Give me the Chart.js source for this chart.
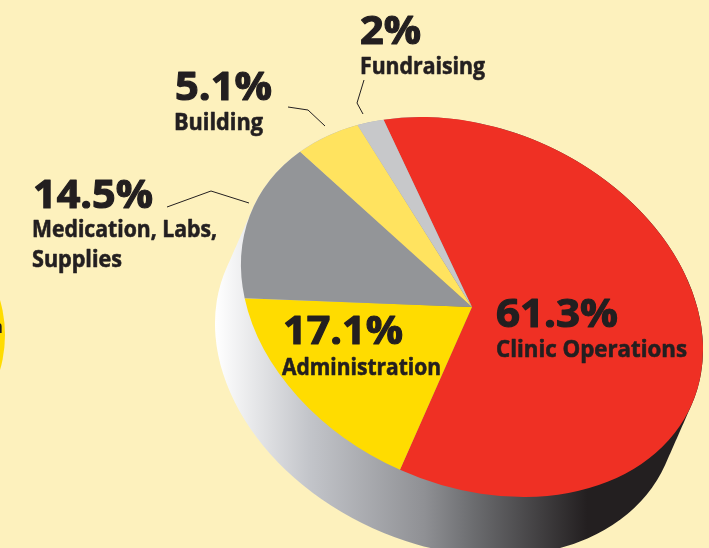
<!DOCTYPE html>
<html>
<head>
<meta charset="utf-8">
<title>Expenses</title>
<script src="https://cdn.jsdelivr.net/npm/chart.js@4"></script>
<style>
  html, body { margin: 0; padding: 0; background: #fdf1bd; overflow: hidden; }
  canvas { display: block; }
</style>
</head>
<body>
<canvas id="myChart" width="709" height="548"></canvas>
<script>
const categories = ["Clinic Operations", "Administration", "Medication, Labs, Supplies", "Building", "Fundraising"];
const values = [61.3, 17.1, 14.5, 5.1, 2];
const sliceColors = ["#ef3024", "#ffdc00", "#939598", "#ffe35f", "#c7c8ca"];

// where the tilted pie sits on the page
const pie = { x: 472, y: 307, rx: 240.4, ry: 178, tilt: 24.3 * Math.PI / 180, sideX: -26, sideY: 59 };

// one entry per slice, same order as categories
const labelSpots = [
  { x: 496, y: 327, w: 122, lines: [[496, 357, 191, "Clinic Operations"]] },
  { x: 283, y: 344, w: 120, lines: [[282, 375, 159, "Administration"]] },
  { x: 33, y: 208, w: 120, lines: [[32, 237, 185, "Medication, Labs,"], [32, 267, 90, "Supplies"]] },
  { x: 175, y: 100, w: 97, lines: [[174, 130, 89, "Building"]] },
  { x: 360, y: 44, w: 61, lines: [[360, 74, 125, "Fundraising"]] }
];
const leaders = [
  [[167, 207], [211, 191], [249, 203]],
  [[288, 107], [308, 110], [325, 126]],
  [[364, 80], [357, 103], [363, 114]]
];

// squeeze or stretch a label to the width it has in the picture
function fitText(ctx, text, x, y, w) {
  ctx.save();
  ctx.translate(x, y);
  ctx.scale(w / ctx.measureText(text).width, 1);
  ctx.fillText(text, 0, 0);
  ctx.strokeText(text, 0, 0);
  ctx.restore();
}

const pieShape = {
  id: "pieShape",
  beforeDatasetsDraw(chart) {
    const ctx = chart.ctx;
    const arc = chart.getDatasetMeta(0).data[0];

    // side of the pie: top ellipse swept down to the left
    const side = ctx.createLinearGradient(216, 0, 680, 0);
    side.addColorStop(0, "#ffffff");
    side.addColorStop(0.2, "#c3c5ca");
    side.addColorStop(0.45, "#8f9094");
    side.addColorStop(0.55, "#6d6e71");
    side.addColorStop(0.8, "#231f20");
    side.addColorStop(1, "#231f20");
    ctx.save();
    ctx.beginPath();
    for (let i = 0; i <= 60; i++) {
      const ex = pie.x + pie.sideX * i / 60;
      const ey = pie.y + pie.sideY * i / 60;
      ctx.moveTo(ex + pie.rx * Math.cos(pie.tilt), ey + pie.rx * Math.sin(pie.tilt));
      ctx.ellipse(ex, ey, pie.rx, pie.ry, pie.tilt, 0, Math.PI * 2);
    }
    ctx.fillStyle = side;
    ctx.fill();
    ctx.restore();

    ctx.save();
    ctx.translate(pie.x, pie.y);
    ctx.rotate(pie.tilt);
    ctx.scale(pie.rx / arc.outerRadius, pie.ry / arc.outerRadius);
    ctx.translate(-arc.x, -arc.y);
  },
  afterDatasetsDraw(chart) {
    chart.ctx.restore();
  }
};

const pieLabels = {
  id: "pieLabels",
  beforeDraw(chart) {
    const ctx = chart.ctx;
    // edge of the neighbouring circle, cut off by the page
    ctx.save();
    ctx.fillStyle = "#ffdc00";
    ctx.beginPath();
    ctx.arc(-120, 335, 125, 0, Math.PI * 2);
    ctx.fill();
    ctx.fillStyle = "#231f20";
    ctx.font = "700 17px 'Open Sans'";
    ctx.textAlign = "right";
    ctx.fillText("n", 3, 333);
    ctx.restore();
  },
  afterDraw(chart) {
    const ctx = chart.ctx;
    ctx.save();
    ctx.fillStyle = "#231f20";
    ctx.strokeStyle = "#231f20";
    ctx.lineJoin = "round";
    ctx.textBaseline = "alphabetic";
    labelSpots.forEach((spot, i) => {
      ctx.lineWidth = 1.2;
      ctx.font = "700 40px 'Open Sans'";
      fitText(ctx, values[i] + "%", spot.x, spot.y, spot.w);
      ctx.lineWidth = 0.6;
      ctx.font = "700 23px 'Open Sans'";
      spot.lines.forEach(l => fitText(ctx, l[3], l[0], l[1], l[2]));
    });
    ctx.lineWidth = 1;
    leaders.forEach(pts => {
      ctx.beginPath();
      pts.forEach((p, i) => i ? ctx.lineTo(p[0], p[1]) : ctx.moveTo(p[0], p[1]));
      ctx.stroke();
    });
    ctx.restore();
  }
};

new Chart(document.getElementById("myChart").getContext("2d"), {
  type: "pie",
  data: {
    labels: categories,
    datasets: [{
      data: values,
      backgroundColor: sliceColors,
      borderWidth: 0,
      clip: false
    }]
  },
  options: {
    responsive: false,
    animation: false,
    rotation: -41,
    plugins: { legend: { display: false }, tooltip: { enabled: false } }
  },
  plugins: [pieLabels, pieShape]
});
</script>
</body>
</html>
